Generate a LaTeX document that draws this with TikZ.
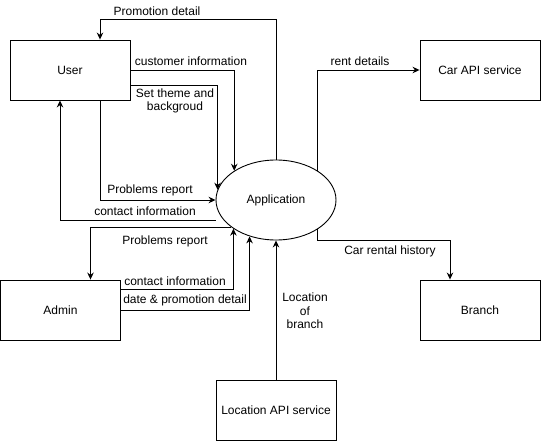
\documentclass[tikz,border=0pt]{standalone}
\usepackage{fontspec}
\setmainfont{Liberation Sans}
\usetikzlibrary{shapes.geometric,arrows.meta}

\begin{document}
\begin{tikzpicture}[
        x=1pt, y=-1pt,
        line width=0.9pt,
        font=\fontsize{12}{13.5}\selectfont,
        entity/.style={rectangle, draw, minimum width=120pt, minimum height=60pt, inner sep=2pt},
        process/.style={ellipse, draw, minimum width=120pt, minimum height=80pt, inner sep=0pt},
        flow/.style={-{Stealth[length=7pt,width=6.5pt]}},
        flow_label/.style={inner sep=0pt, align=center}
    ]
        \useasboundingbox (0,0) rectangle (541,441);

        % Central process
        \node[process] (app) at (276,200) {Application};

        % External entities
        \node[entity] (user) at (70,70) {User};
        \node[entity] (car) at (480,70) {Car API service};
        \node[entity] (admin) at (60.5,310) {Admin};
        \node[entity] (branch) at (480,310) {Branch};
        \node[entity] (location) at (276,410) {Location API service};

        % Flows between user and application
        \draw[flow] (app.north) -- ++(0,-140) -| ([xshift=30pt]user.north);
        \draw[flow] (user.east) -| (app.145.8);
        \draw[flow] ([yshift=-15pt]user.east) -| (app.170);
        \draw[flow] ([xshift=30pt]user.south) |- (app.west);
        \draw[flow] ([yshift=-20pt]app.west) -| ([xshift=-10pt]user.south);

        % Flows between admin and application
        \draw[flow] (app.211.7) -| ([xshift=30pt]admin.north);
        \draw[flow] ([yshift=21pt]admin.east) -| (app.214.2);
        \draw[flow] (admin.east) -| (app.234.2);

        % Flows to the services and branch
        \draw[flow] (location.north) -- (app.south);
        \draw[flow] (app.35.5) |- (car.west);
        \draw[flow] (app.-35.5) -- ++(0,11) -| ([xshift=-30pt]branch.north);

        % Flow labels
        \node[flow_label] (l_promo) at (157,11) {Promotion detail};
        \node[flow_label] (l_cust) at (191,61) {customer information};
        \node[flow_label] (l_theme) at (175,101) {Set theme and\\backgroud};
        \node[flow_label] (l_prob_user) at (150,190) {Problems report};
        \node[flow_label] (l_contact_user) at (145,211) {contact information};
        \node[flow_label] (l_prob_admin) at (165,241) {Problems report};
        \node[flow_label] (l_contact_admin) at (175,281) {contact information};
        \node[flow_label] (l_date) at (185,300) {date \& promotion detail};
        \node[flow_label] (l_location) at (305,311) {Location\\of\\branch};
        \node[flow_label] (l_rent) at (360,61) {rent details};
        \node[flow_label] (l_history) at (390,251) {Car rental history};

    \end{tikzpicture}
\end{document}
